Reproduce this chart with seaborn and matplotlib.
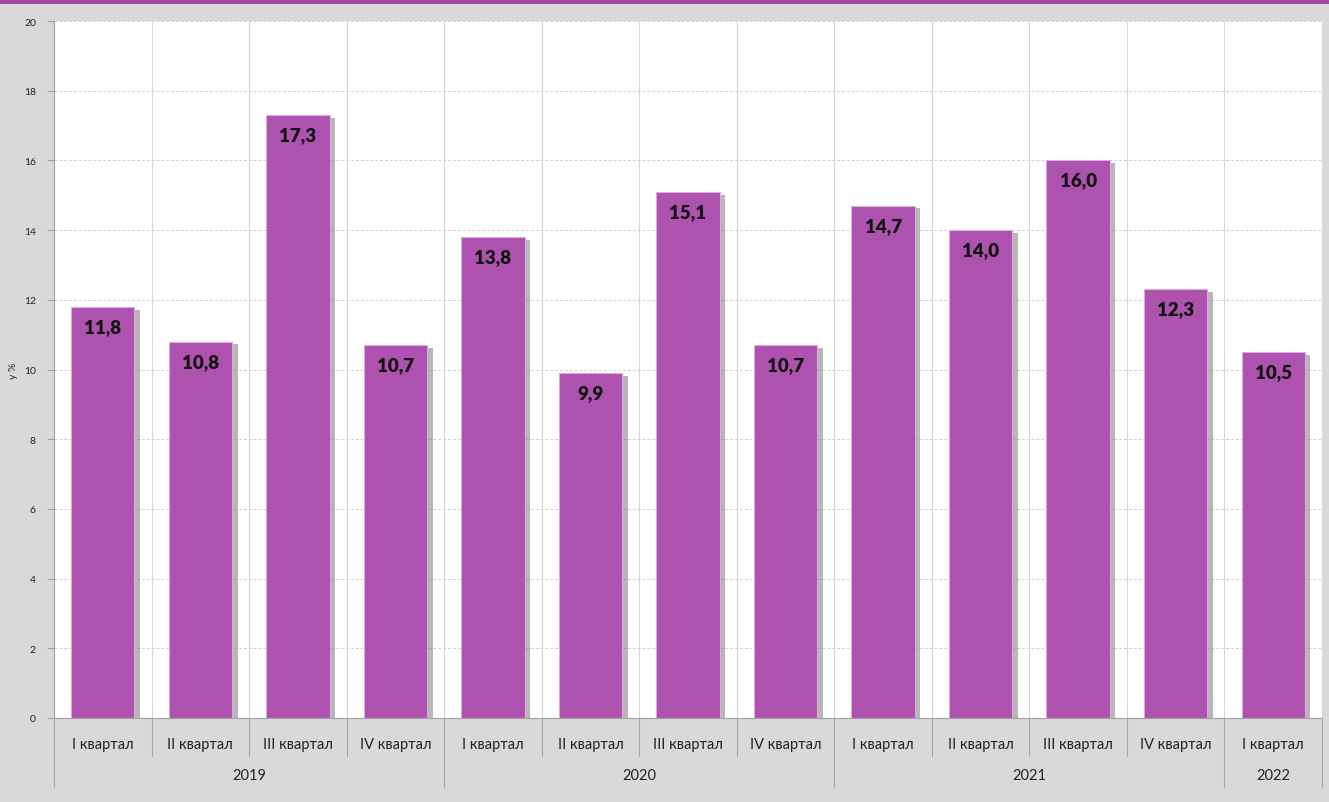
import matplotlib
matplotlib.use("Agg")
import matplotlib.pyplot as plt
import matplotlib.patheffects as pe
import matplotlib.transforms as mtransforms
from matplotlib.patches import Rectangle
import pandas as pd
import seaborn as sns

# Quarterly values, %
quarters = ["I квартал", "II квартал", "III квартал", "IV квартал",
            "I квартал", "II квартал", "III квартал", "IV квартал",
            "I квартал", "II квартал", "III квартал", "IV квартал",
            "I квартал"]
years = ["2019", "2020", "2021", "2022"]
year_sizes = [4, 4, 4, 1]
values = [11.8, 10.8, 17.3, 10.7, 13.8, 9.9, 15.1, 10.7, 14.7, 14.0, 16.0, 12.3, 10.5]
y_ticks = [0, 2, 4, 6, 8, 10, 12, 14, 16, 18, 20]

BAR = "#ae52b0"
BG = "#d9d9d9"

sns.set_theme(style="white")
plt.rcParams["font.family"] = ["Lato", "DejaVu Sans"]

df = pd.DataFrame({"pos": [f"{i}" for i in range(len(values))], "value": values})

W, H = 1329, 803
fig = plt.figure(figsize=(W / 100, H / 100), dpi=100, facecolor=BG)
ax = fig.add_axes([54 / W, (H - 719) / H, (1322 - 54) / W, (719 - 22) / H])
ax.set_facecolor("white")

# Top accent band
fig.patches.append(Rectangle((0, 1 - 5 / H), 1, 5 / H, transform=fig.transFigure,
                             facecolor="#a34aa6", edgecolor="none", zorder=0))

sns.barplot(data=df, x="pos", y="value", color=BAR, width=0.65, ax=ax,
            saturation=1, edgecolor="#dcaadd", linewidth=0.8, zorder=3)

for bar in ax.patches:
    bar.set_path_effects([pe.SimplePatchShadow(offset=(4, -2), shadow_rgbFace="#707070", alpha=0.5),
                          pe.Normal()])

for i, v in enumerate(values):
    ax.annotate(f"{v:.1f}".replace(".", ","), xy=(i, v), xytext=(0, -8),
                textcoords="offset points", ha="center", va="top",
                fontsize=13.5, fontweight="heavy", color="#111111", zorder=5)

n = len(values)
ax.set_xlim(-0.5, n - 0.5)
ax.set_ylim(0, 20)
ax.set_yticks(y_ticks)
ax.set_yticklabels([str(t) for t in y_ticks], fontsize=7.5, color="#222222")
ax.tick_params(axis="y", length=5, width=0.8, color="#a0a0a0", left=True, pad=8)
ax.set_ylabel("у %", fontsize=7.5, color="#222222")
ax.yaxis.set_label_coords(-36 / 1268, 0.5)

# Gridlines
for t in y_ticks[1:]:
    ax.axhline(t, color="#d0d0d0", lw=0.7, ls=(0, (3, 2)), zorder=1)
for b in range(1, n):
    ax.axvline(b - 0.5, color="#d6d6d6", lw=0.8, zorder=1)

ax.set_xticks([])
ax.set_xlabel("")
for side in ["top", "right"]:
    ax.spines[side].set_visible(False)
ax.spines["left"].set_color("#a0a0a0")
ax.spines["bottom"].set_color("#a0a0a0")
ax.spines["left"].set_linewidth(0.8)
ax.spines["bottom"].set_linewidth(0.8)

# Two-tier category axis below the plot
trans = mtransforms.blended_transform_factory(ax.transData, ax.transAxes)
px = 1 / (719 - 22)
for i, q in enumerate(quarters):
    ax.text(i, -26 * px, q, transform=trans, ha="center", va="center",
            fontsize=10.5, color="#222222", clip_on=False)

year_edges = [0]
for s in year_sizes:
    year_edges.append(year_edges[-1] + s)
for k, y in enumerate(years):
    mid = (year_edges[k] + year_edges[k + 1]) / 2 - 0.5
    ax.text(mid, -57 * px, y, transform=trans, ha="center", va="center",
            fontsize=10.5, color="#222222", clip_on=False)

for b in range(0, n + 1):
    x = b - 0.5
    bottom = -69 * px if b in year_edges else -38 * px
    ax.plot([x, x], [0, bottom], transform=trans, color="#a6a6a6", lw=0.8,
            clip_on=False, zorder=2)

fig.savefig("out.png", dpi=100, facecolor=BG)
